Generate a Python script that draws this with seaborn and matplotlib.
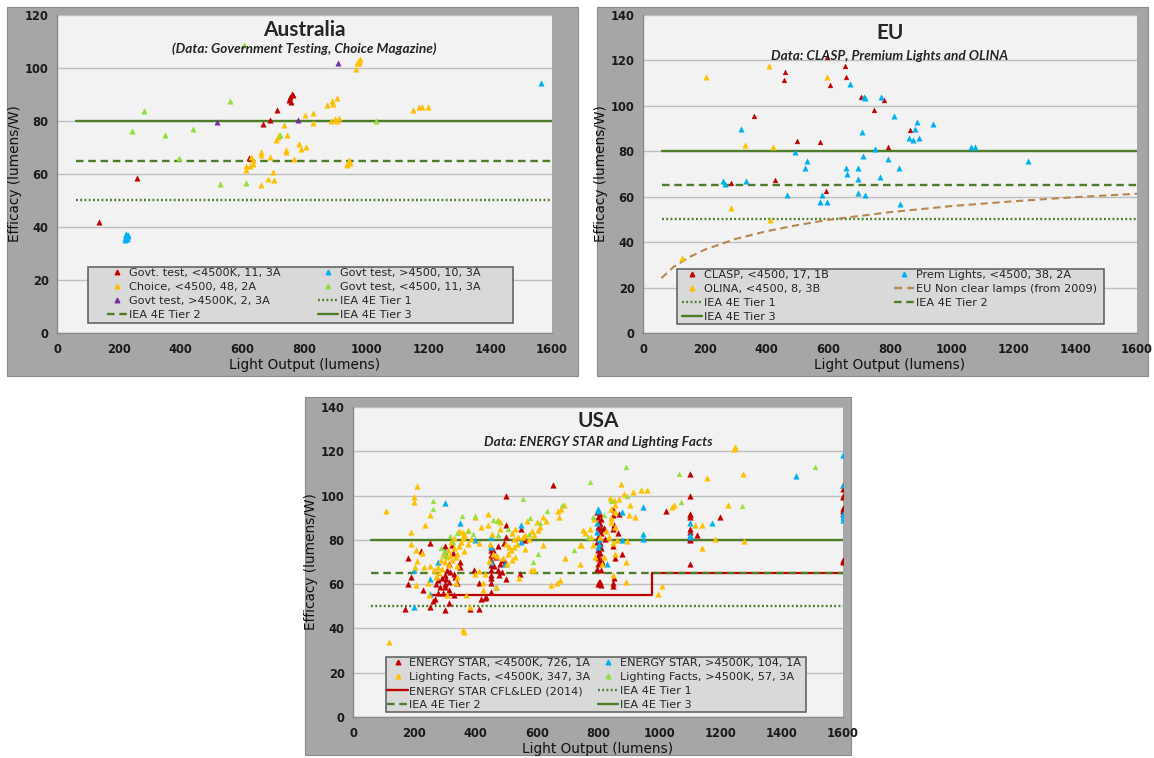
import matplotlib
matplotlib.use('Agg')
import matplotlib.pyplot as plt
import seaborn as sns
from matplotlib.lines import Line2D
from matplotlib.patches import Rectangle

# ---------------- DATA ----------------
# Australia
au_gov_warm_x = [137, 260, 622, 667, 687, 711, 751, 753, 756, 764, 760]
au_gov_warm_y = [41.9, 58.4, 66.2, 78.9, 80.4, 84.2, 87.9, 89.2, 87.1, 89.8, 90.3]
au_gov_cool_x = [220, 222, 225, 228, 224, 226, 221, 229, 223, 1565]
au_gov_cool_y = [36.0, 37.0, 35.5, 36.5, 37.5, 36.0, 35.2, 37.0, 36.8, 94.2]
au_choice_x = [965, 970, 975, 981, 975, 874, 890, 892, 905, 802, 826, 829, 886, 900, 912, 904,
               1150, 1169, 1181, 1199, 735, 744, 709, 714, 719, 783, 789, 805, 741, 739, 767,
               688, 660, 661, 626, 632, 632, 611, 610, 623, 697, 683, 700, 660, 936, 943, 947, 938]
au_choice_y = [99.5, 102.0, 102.7, 103.3, 101.8, 86.0, 87.6, 86.6, 88.8, 82.3, 83.2, 79.3, 79.9, 80.7, 81.1, 80.0,
               84.2, 85.2, 85.1, 85.4, 78.5, 74.6, 72.7, 74.1, 74.8, 71.2, 69.5, 70.1, 68.9, 68.2, 65.7,
               66.6, 68.2, 67.0, 66.6, 65.3, 63.8, 63.2, 61.6, 63.1, 60.8, 58.1, 57.6, 55.9, 63.8, 65.1, 64.3, 63.5]
au_gov_green_x = [604, 282, 243, 349, 438, 393, 560, 528, 610, 720, 1031]
au_gov_green_y = [108.7, 83.6, 76.3, 74.6, 77.0, 66.0, 87.6, 56.4, 56.5, 74.8, 80.0]
au_gov_purple_x = [517, 778, 909]
au_gov_purple_y = [79.5, 80.3, 101.7]

# EU
eu_clasp_x = [596, 654, 658, 605, 461, 458, 358, 706, 781, 748, 500, 573, 864, 792, 284, 426, 594]
eu_clasp_y = [121.3, 117.5, 112.6, 109.4, 114.8, 111.6, 95.4, 103.8, 102.5, 98.1, 84.4, 84.3, 89.3, 82.0, 66.0, 67.2, 62.4]
eu_olina_x = [203, 408, 597, 330, 421, 284, 410, 127]
eu_olina_y = [112.6, 117.6, 112.6, 82.8, 81.8, 54.9, 49.9, 32.9]
eu_prem_x = [671, 716, 771, 814, 887, 938, 880, 709, 317, 862,
             874, 895, 1063, 1076, 752, 492, 530, 524, 714, 793,
             659, 696, 661, 696, 768, 828, 259, 264, 335, 468,
             574, 579, 596, 697, 720, 831, 1248, 719]
eu_prem_y = [109.7, 103.8, 103.8, 95.7, 92.8, 91.8, 89.9, 88.7, 89.9, 85.9,
             84.9, 85.9, 81.9, 81.9, 80.9, 79.9, 75.9, 72.8, 77.8, 76.8,
             72.8, 72.8, 69.9, 67.8, 68.8, 72.8, 66.8, 65.7, 66.8, 60.9,
             57.8, 60.9, 57.8, 61.8, 60.9, 56.8, 75.7, 103.5]
eu_nonclear_x = [60, 100, 150, 200, 300, 400, 500, 600, 800, 1000, 1200, 1400, 1600]
eu_nonclear_y = [24.2, 29.2, 33.4, 36.7, 41.4, 44.8, 47.5, 49.8, 53.2, 55.9, 58.0, 59.8, 61.3]

# USA
us_es_warm_x = [1100, 1100, 1099, 1101, 1100, 1099, 1101, 1100, 1100, 1099, 1101,
                1600, 1600, 1600, 1599, 1600, 1600, 1599, 1600, 1600, 1600, 1599,
                1021, 1198, 1122, 654, 499,
                798, 800, 802, 799, 801, 800, 798, 802, 800, 799, 801, 800, 798, 802, 800,
                808, 810, 807, 809, 811, 808, 810, 807, 809, 811, 808, 810,
                850, 849, 851, 850, 849, 851, 850, 849,
                870, 856, 878, 865, 818, 813, 822,
                450, 449, 451, 450, 449, 451, 450, 449, 451, 450,
                467, 473, 481, 487, 498, 499, 499, 492, 472, 458, 411, 431, 411, 381, 462, 476, 485, 495,
                178, 180, 189, 169, 223, 230, 251, 250, 262, 269, 278, 271, 279, 290, 300, 300, 300,
                306, 312, 315, 323, 327, 329, 333, 312, 299, 329, 348, 350, 394, 417, 434, 312, 294,
                285, 300, 305, 318, 340, 560, 545, 550]
us_es_warm_y = [109.8, 99.9, 91.9, 91.1, 84.7, 83.6, 81.4, 79.9, 68.9, 90.5, 80.5,
                104.8, 103.0, 100.0, 94.6, 93.7, 91.9, 71.1, 69.9, 70.5, 99.5, 93.0,
                92.9, 90.2, 82.3, 105.0, 100.0,
                92.6, 90.4, 88.0, 85.9, 84.4, 81.4, 79.1, 76.8, 75.3, 73.1, 71.6, 69.3, 66.9, 61.1, 59.9,
                91.7, 89.4, 87.3, 84.9, 82.9, 78.4, 76.3, 73.9, 70.9, 66.3, 61.1, 59.6,
                94.1, 91.1, 86.9, 84.7, 77.3, 62.6, 60.6, 59.1,
                91.6, 71.6, 73.8, 82.9, 85.5, 70.0, 80.3,
                76.8, 75.3, 73.1, 70.8, 68.6, 66.3, 64.1, 62.6, 60.3, 56.4,
                72.3, 66.3, 69.3, 65.6, 62.4, 81.4, 86.6, 78.6, 77.1, 75.3, 60.3, 53.7, 49.0, 48.7, 68.0, 64.0, 71.0, 70.0,
                72.0, 59.9, 63.3, 48.9, 74.9, 57.3, 78.8, 49.8, 52.3, 53.5, 56.2, 60.0, 61.8, 62.6, 60.0, 58.8, 77.3,
                66.3, 69.3, 61.1, 77.6, 74.1, 64.8, 63.3, 51.6, 48.4, 55.0, 69.8, 67.8, 66.3, 53.1, 54.3, 57.3, 55.8,
                58.8, 64.0, 62.5, 65.5, 60.5, 80.0, 64.5, 85.0]
us_es_cool_x = [1599, 1599, 1599, 1599, 1445, 1171, 1099, 1099, 1099, 948,
                948, 948, 878, 877, 799, 797, 797, 799, 804, 828,
                548, 548, 450, 450, 452, 467, 496, 399, 349, 299,
                277, 250, 250, 199, 199, 300, 800, 802, 1599]
us_es_cool_y = [118.2, 105.0, 88.9, 91.6, 108.9, 87.8, 87.7, 82.1, 81.4, 94.9,
                80.2, 82.6, 92.6, 80.0, 94.1, 87.4, 83.6, 76.8, 80.3, 68.9,
                86.9, 78.9, 76.8, 69.8, 81.4, 58.8, 69.3, 79.9, 87.4, 96.7,
                69.9, 62.1, 55.5, 49.8, 66.3, 74.4, 93.0, 78.0, 90.5]
us_lf_warm_x = [1243, 1247, 1274, 1156, 1225, 1141, 1118, 1141, 1182, 1278,
                1042, 1049, 1009, 995, 960, 939, 913, 903, 902, 921,
                895, 893, 891, 876, 884, 870, 853, 839, 844, 855,
                855, 844, 841, 857, 826, 836, 850, 855, 861, 849,
                808, 788, 773, 776, 785, 818, 814, 791, 750, 756,
                744, 742, 691, 671, 673, 680, 688, 667, 676, 621,
                612, 621, 592, 592, 575, 569, 561, 540, 526, 526,
                537, 516, 507, 518, 530, 502, 489, 479, 470, 458,
                446, 441, 419, 411, 423, 425, 468, 431, 398, 385,
                376, 364, 362, 360, 353, 347, 341, 335, 329, 323,
                318, 313, 306, 294, 288, 277, 271, 265, 253, 244,
                232, 224, 209, 199, 199, 190, 189, 207, 209, 202,
                207, 252, 236, 109, 116, 248, 306, 370, 341, 359,
                364, 382, 397, 411, 364, 376, 440, 481, 473, 499,
                555, 542, 580, 645, 742, 300, 310, 320, 330, 345,
                355, 338, 290, 280, 335, 455, 445, 520, 530, 510,
                600, 605, 630, 560, 585]
us_lf_warm_y = [121.2, 121.8, 109.9, 107.8, 95.6, 86.9, 86.9, 76.2, 80.5, 79.5,
                94.9, 95.6, 59.1, 55.5, 102.4, 102.4, 101.7, 95.9, 91.1, 90.1,
                79.5, 69.9, 60.9, 105.4, 100.9, 98.5, 97.9, 99.1, 94.0, 95.6,
                92.6, 89.9, 88.0, 85.9, 84.1, 81.4, 78.8, 73.8, 79.8, 64.1,
                81.4, 89.6, 85.1, 81.4, 77.6, 72.3, 69.3, 72.3, 84.4, 83.3,
                77.6, 69.3, 71.6, 93.1, 90.1, 94.1, 95.6, 60.3, 61.8, 90.4,
                85.9, 77.6, 82.1, 66.3, 80.2, 88.6, 82.4, 81.4, 80.2, 76.8,
                78.3, 75.3, 73.8, 70.8, 72.3, 69.3, 71.6, 84.7, 72.6, 73.8,
                78.3, 91.9, 85.9, 78.6, 60.6, 57.3, 58.5, 64.5, 90.1, 80.6,
                78.3, 75.0, 82.1, 80.9, 79.1, 77.1, 73.8, 72.3, 76.1, 70.8,
                73.1, 68.6, 72.3, 73.8, 70.8, 67.8, 63.3, 66.3, 68.3, 60.3,
                67.8, 74.1, 104.2, 99.4, 97.1, 83.5, 78.3, 75.3, 70.4, 67.8,
                59.4, 91.3, 86.6, 93.1, 34.0, 55.0, 55.0, 55.3, 63.3, 39.2,
                38.5, 49.8, 64.8, 66.0, 82.6, 84.4, 86.6, 88.1, 88.9, 78.3,
                81.4, 62.6, 66.3, 59.7, 77.9, 70.0, 75.5, 79.0, 81.0, 84.0,
                83.5, 68.0, 67.0, 65.0, 60.5, 82.5, 70.5, 83.0, 85.0, 77.0,
                88.0, 84.5, 88.5, 76.0, 84.0]
us_lf_cool_x = [262, 891, 1510, 1066, 773, 556, 684, 1070, 1271, 355,
                399, 471, 577, 610, 633, 317, 288, 297, 374, 392,
                458, 472, 505, 575, 589, 604, 720, 767, 783, 818,
                843, 896, 260, 340, 325, 300]
us_lf_cool_y = [93.9, 112.8, 112.8, 109.8, 106.0, 98.5, 95.8, 97.0, 95.5, 91.0,
                90.7, 88.6, 89.8, 87.7, 93.1, 81.8, 76.1, 74.4, 84.1, 82.6,
                89.0, 82.0, 84.7, 82.6, 70.1, 73.5, 75.6, 81.4, 90.4, 91.1,
                97.6, 100.0, 97.5, 83.0, 79.0, 72.5]
us_es_std_x = [250, 975, 975, 1600]
us_es_std_y = [55, 55, 65, 65]

# IEA 4E tiers (all panels)
tier_x = [60, 1600]
tier1_y = [50, 50]
tier2_y = [65, 65]
tier3_y = [80, 80]

# ---------------- STYLE ----------------
RED, BLUE, ORANGE, GREEN, PURPLE = '#c00000', '#00b0f0', '#ffc000', '#92e03c', '#7030a0'
TIER = '#4e7d2a'
BROWN = '#b8864e'
DOT = (0, (0.8, 1.0))
DASH = (0, (3.2, 2.0))
BDASH = (0, (3.5, 2.2))

sns.set_style('white')
plt.rcParams['font.family'] = ['DejaVu Sans']

W, H = 1154, 758
fig = plt.figure(figsize=(W / 100, H / 100), dpi=100)
fig.patch.set_facecolor('white')


def frame(x0, y0, x1, y1):
    fig.patches.append(Rectangle((x0 / W, 1 - y1 / H), (x1 - x0) / W, (y1 - y0) / H,
                                 transform=fig.transFigure, facecolor='#a6a6a6',
                                 edgecolor='#8a8a8a', lw=0.8, zorder=-10))


def make_axes(x0, y0, x1, y1, ymax):
    ax = fig.add_axes([x0 / W, 1 - y1 / H, (x1 - x0) / W, (y1 - y0) / H])
    ax.set_zorder(1)
    ax.set_facecolor('#f2f2f2')
    ax.set_xlim(0, 1600)
    ax.set_ylim(0, ymax)
    ax.set_xticks(range(0, 1601, 200))
    ax.set_yticks(range(0, ymax + 1, 20))
    ax.grid(axis='y', color='#bfbfbf', lw=1.0)
    ax.grid(axis='x', visible=False)
    ax.set_axisbelow(True)
    for s in ['top', 'right']:
        ax.spines[s].set_visible(False)
    for s in ['left', 'bottom']:
        ax.spines[s].set_color('#8a8a8a')
        ax.spines[s].set_linewidth(1.0)
    ax.tick_params(axis='x', labelsize=8.3, length=3, color='#9a9a9a', pad=4, labelcolor='#1a1a1a')
    ax.tick_params(axis='y', labelsize=8.3, length=0, pad=6, labelcolor='#1a1a1a')
    for lab in ax.get_xticklabels() + ax.get_yticklabels():
        lab.set_fontweight('bold')
    ax.set_xlabel('Light Output (lumens)', fontsize=9.8, labelpad=2, color='#111111')
    ax.set_ylabel('Efficacy (lumens/W)', fontsize=9.8, labelpad=2, color='#111111')
    return ax


def pts(ax, x, y, color, s=15):
    sns.scatterplot(x=x, y=y, ax=ax, marker='^', color=color, s=s,
                    edgecolor=color, linewidth=0.3, legend=False, zorder=3)


def tiers(ax):
    ax.plot(tier_x, tier1_y, color=TIER, lw=1.7, ls=DOT, zorder=2)
    ax.plot(tier_x, tier2_y, color=TIER, lw=1.7, ls=DASH, zorder=2.2)
    ax.plot(tier_x, tier3_y, color=TIER, lw=1.7, zorder=2)


def mk(color):
    return Line2D([], [], marker='^', color=color, ls='none', markersize=3.3)


def ln(color, ls):
    return Line2D([], [], color=color, ls=ls, lw=1.7)


def legend(ax, col1, col2, box, x1, x2, ytop):
    # grey legend box
    ax.add_patch(Rectangle((box[0], box[1]), box[2], box[3], transform=ax.transAxes,
                           facecolor='#d9d9d9', edgecolor='#5a5a5a', lw=1.1, zorder=5,
                           clip_on=False))
    kw = dict(loc='upper left', fontsize=8.1, frameon=False, borderaxespad=0,
              borderpad=0, handlelength=1.8, handletextpad=0.15, labelspacing=0.36)
    l1 = ax.legend([h for h, _ in col1], [t for _, t in col1],
                   bbox_to_anchor=(x1, ytop), **kw)
    l1.set_zorder(6)
    ax.add_artist(l1)
    l2 = ax.legend([h for h, _ in col2], [t for _, t in col2],
                   bbox_to_anchor=(x2, ytop), **kw)
    l2.set_zorder(6)


def titles(ax, title, sub, ty, sy):
    ax.text(0.5, ty, title, transform=ax.transAxes, ha='center', va='center',
            fontsize=15, fontweight='bold', family=['Lato', 'DejaVu Sans'], zorder=6)
    ax.text(0.5, sy, sub, transform=ax.transAxes, ha='center', va='center',
            fontsize=9.8, fontweight='bold', style='italic',
            family=['Lato', 'DejaVu Sans'], zorder=6)


# ---------------- AUSTRALIA ----------------
frame(7, 7, 578, 376)
ax1 = make_axes(57, 15, 552, 333, 120)
tiers(ax1)
pts(ax1, au_gov_warm_x, au_gov_warm_y, RED)
pts(ax1, au_gov_cool_x, au_gov_cool_y, BLUE)
pts(ax1, au_choice_x, au_choice_y, ORANGE)
pts(ax1, au_gov_green_x, au_gov_green_y, GREEN)
pts(ax1, au_gov_purple_x, au_gov_purple_y, PURPLE)
titles(ax1, 'Australia', '(Data: Government Testing, Choice Magazine)', 0.953, 0.895)
legend(ax1,
       [(mk(RED), 'Govt. test, <4500K, 11, 3A'), (mk(ORANGE), 'Choice, <4500, 48, 2A'),
        (mk(PURPLE), 'Govt test, >4500K, 2, 3A'), (ln(TIER, DASH), 'IEA 4E Tier 2')],
       [(mk(BLUE), 'Govt test, >4500, 10, 3A'), (mk(GREEN), 'Govt test, <4500, 11, 3A'),
        (ln(TIER, DOT), 'IEA 4E Tier 1'), (ln(TIER, '-'), 'IEA 4E Tier 3')],
       (0.0626, 0.0314, 0.8586, 0.176), 0.101, 0.527, 0.204)

# ---------------- EU ----------------
frame(597, 7, 1148, 376)
ax2 = make_axes(643, 15, 1137, 333, 140)
tiers(ax2)
ax2.plot(eu_nonclear_x, eu_nonclear_y, color=BROWN, lw=1.5, ls=BDASH, zorder=2)
pts(ax2, eu_clasp_x, eu_clasp_y, RED, s=12)
pts(ax2, eu_olina_x, eu_olina_y, ORANGE)
pts(ax2, eu_prem_x, eu_prem_y, BLUE)
titles(ax2, 'EU', 'Data: CLASP, Premium Lights and OLINA', 0.943, 0.872)
legend(ax2,
       [(mk(RED), 'CLASP, <4500, 17, 1B'), (mk(ORANGE), 'OLINA, <4500, 8, 3B'),
        (ln(TIER, DOT), 'IEA 4E Tier 1'), (ln(TIER, '-'), 'IEA 4E Tier 3')],
       [(mk(BLUE), 'Prem Lights, <4500, 38, 2A'),
        (ln(BROWN, BDASH), 'EU Non clear lamps (from 2009)'),
        (ln(TIER, DASH), 'IEA 4E Tier 2')],
       (0.0688, 0.0283, 0.864, 0.173), 0.079, 0.508, 0.198)

# ---------------- USA ----------------
frame(305, 397, 851, 755)
ax3 = make_axes(353, 407, 843, 717, 140)
ax3.plot(us_es_std_x, us_es_std_y, color=RED, lw=1.6, zorder=2.1)
tiers(ax3)
pts(ax3, us_es_warm_x, us_es_warm_y, RED, s=16)
pts(ax3, us_es_cool_x, us_es_cool_y, BLUE, s=16)
pts(ax3, us_lf_warm_x, us_lf_warm_y, ORANGE, s=16)
pts(ax3, us_lf_cool_x, us_lf_cool_y, GREEN, s=12)
titles(ax3, 'USA', 'Data: ENERGY STAR and Lighting Facts', 0.955, 0.888)
legend(ax3,
       [(mk(RED), 'ENERGY STAR, <4500K, 726, 1A'), (mk(ORANGE), 'Lighting Facts, <4500K, 347, 3A'),
        (ln(RED, '-'), 'ENERGY STAR CFL&LED (2014)'), (ln(TIER, DASH), 'IEA 4E Tier 2')],
       [(mk(BLUE), 'ENERGY STAR, >4500K, 104, 1A'), (mk(GREEN), 'Lighting Facts, >4500K, 57, 3A'),
        (ln(TIER, DOT), 'IEA 4E Tier 1'), (ln(TIER, '-'), 'IEA 4E Tier 3')],
       (0.0673, 0.016, 0.857, 0.177), 0.0704, 0.5, 0.19)

fig.savefig('out.png', dpi=100, facecolor='white')
